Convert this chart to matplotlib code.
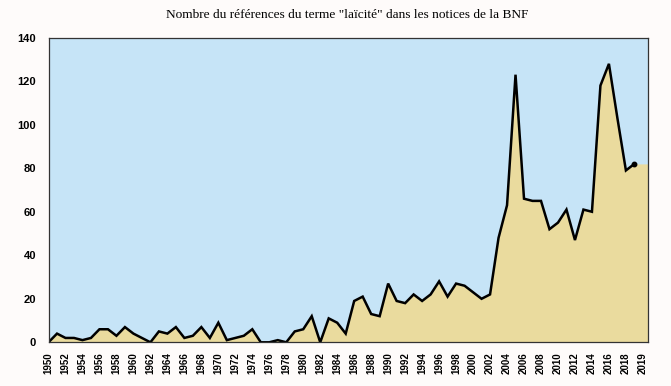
import numpy as np
import matplotlib.pyplot as plt

# Nombre de références "laïcité" par année
years = list(range(1950, 2020))
counts = [0, 4, 2, 2, 1, 2, 6, 6, 3, 7,
          4, 2, 0, 5, 4, 7, 2, 3, 7, 2,
          9, 1, 2, 3, 6, 0, 0, 1, 0, 5,
          6, 12, 0, 11, 9, 4, 19, 21, 13, 12,
          27, 19, 18, 22, 19, 22, 28, 21, 27, 26,
          23, 20, 22, 48, 63, 123, 66, 65, 65, 52,
          55, 61, 47, 61, 60, 118, 128, 103, 79, 82]

tick_years = list(range(1950, 2019, 2))
tick_labels = [str(y) for y in tick_years] + ['2019']

BLUE = '#c6e4f7'
KHAKI = '#eadb9e'

plt.rcParams['font.family'] = ['Liberation Sans', 'DejaVu Sans']

fig = plt.figure(figsize=(6.71, 3.86), dpi=100, facecolor='#fefbfa')
ax = fig.add_axes([0.0723, 0.1132, 0.8934, 0.7891])
ax.set_facecolor(BLUE)

x_right = 2020.6
# the area continues flat to the right edge of the plot
fill_x = years + [x_right]
fill_y = counts + [counts[-1]]
ax.fill_between(fill_x, fill_y, 0, color=KHAKI, lw=0, zorder=1)
ax.plot(years, counts, color='black', lw=1.8, zorder=2, solid_joinstyle='miter')
ax.plot(years[-1], counts[-1], 'o', color='black', ms=3.2, zorder=3)

ax.set_xlim(1950, x_right)
ax.set_ylim(0, 140)
ax.set_yticks(range(0, 141, 20))
ax.set_yticklabels([str(v) for v in range(0, 141, 20)], fontsize=8, fontweight='bold')
ax.set_xticks(tick_years + [2020])
ax.set_xticklabels(tick_labels, rotation=90, fontsize=7, fontweight='bold')
ax.tick_params(axis='y', length=0, pad=9)
ax.tick_params(axis='x', length=0, pad=7)

for s in ax.spines.values():
    s.set_color('#333333')
    s.set_linewidth(0.9)

fig.text(0.518, 0.96, 'Nombre du références du terme "laïcité" dans les notices de la BNF',
         ha='center', va='center', fontsize=9.6, family='Liberation Serif')

fig.savefig('out.png', dpi=100, facecolor=fig.get_facecolor())
